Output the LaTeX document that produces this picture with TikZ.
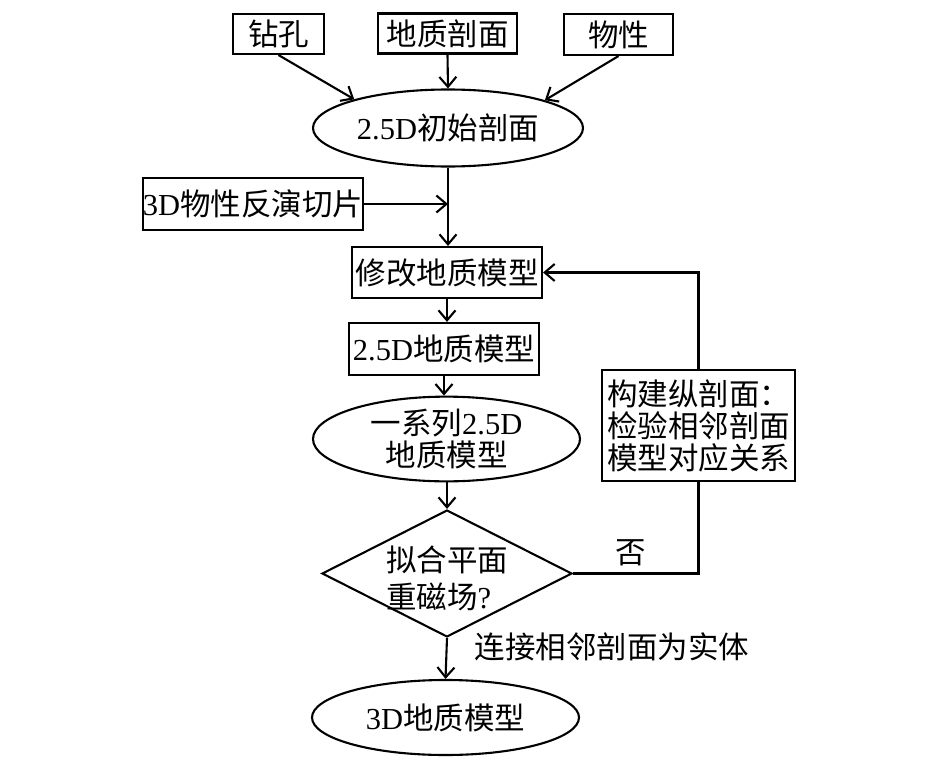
\documentclass[tikz,border=0pt]{standalone}
\usepackage{fontspec}
\setmainfont{Liberation Serif}
\newfontfamily\cjk{Noto Sans CJK SC}
\newcommand\zh[1]{{\cjk #1}}
\usetikzlibrary{shapes.geometric,arrows.meta}
\begin{document}
\begin{tikzpicture}[x=1pt,y=-1pt,
  every node/.style={font=\fontsize{30.5}{32}\selectfont},
  ln/.style={line width=2.1pt},
  arr/.style={ln,-{Straight Barb[length=10pt,width=17pt]}},
  boxn/.style={draw,ln,rectangle,inner sep=0pt,align=center},
  ell/.style={draw,ln,ellipse,inner sep=0pt,align=center},
  lbl/.style={inner sep=0pt,align=left}]
\useasboundingbox (0,0) rectangle (945,768);
\fill[white] (0,0) rectangle (945,768);
% top inputs
\node[boxn,minimum width=91pt,minimum height=40pt] (zk) at (278.5,34) {\zh{钻孔}};
\node[boxn,minimum width=139pt,minimum height=40pt] (dz) at (447.5,33.5) {\zh{地质剖面}};
\node[boxn,minimum width=109pt,minimum height=41pt] (wx) at (618.5,34.5) {\zh{物性}};
% initial section
\node[ell,minimum width=270pt,minimum height=77pt] (e1) at (448,128) {2.5D\zh{初始剖面}};
\node[boxn,minimum width=220pt,minimum height=52pt] (qp) at (253,204) {3D\zh{物性反演切片}};
\node[boxn,minimum width=190pt,minimum height=51pt] (xg) at (447,272.5) {\zh{修改地质模型}};
\node[boxn,minimum width=190pt,minimum height=52pt] (m25) at (444,349) {2.5D\zh{地质模型}};
\node[ell,minimum width=267pt,minimum height=78pt] (e2) at (446.5,439) {\zh{一系列}2.5D\\\zh{地质模型}};
\node[draw,ln,diamond,minimum width=250pt,minimum height=127pt,inner sep=0pt] (dia) at (447,573.5) {};
\node[lbl] (diat) at (447,578) {\zh{拟合平面}\\[5pt]\zh{重磁场}?};
\node[ell,minimum width=267pt,minimum height=75pt] (e3) at (445.5,717.5) {3D\zh{地质模型}};
\node[boxn,minimum width=193pt,minimum height=111pt] (gj) at (698.5,425.5) {\zh{构建纵剖面：}\\\zh{检验相邻剖面}\\\zh{模型对应关系}};
\node[lbl] (no) at (631,553) {\zh{否}};
\node[lbl] (lj) at (612,647) {\zh{连接相邻剖面为实体}};
% connectors
\draw[arr] (zk.south) -- (e1.163.6);
\draw[arr] (dz.south) -- (e1.north);
\draw[arr] (wx.south) -- (e1.16);
\draw[arr] (e1.south) -- (e1.south |- xg.north);
\coordinate (qpin) at (e1.south |- qp.east);
\draw[arr] (qp.east) -- (qpin);
\draw[arr] (xg.south) -- (xg.south |- m25.north);
\draw[arr] (m25.south) -- (m25.south |- e2.north);
\draw[arr] (e2.south) -- (e2.south -| dia.north) -- (dia.north);
\draw[arr] (dia.south) -- (e3.north);
\draw[ln] (dia.east) -- (gj.south |- dia.east) -- (gj.south);
\draw[arr] (gj.north) -- (gj.north |- xg.east) -- (xg.east);
\end{tikzpicture}
\end{document}
